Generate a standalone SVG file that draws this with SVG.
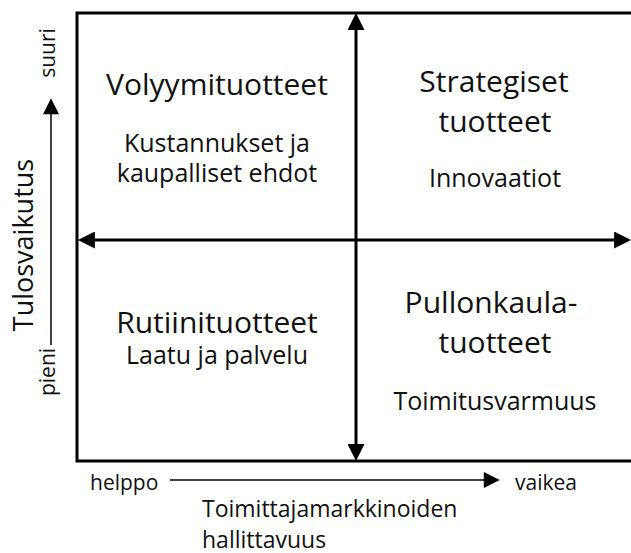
<svg xmlns="http://www.w3.org/2000/svg" width="631" height="553" viewBox="0 0 631 553">
<style>
text{font-family:"Open Sans","Noto Sans",sans-serif;fill:#111;}
.t{font-size:30px;text-anchor:middle;}
.s{font-size:25px;text-anchor:middle;}
.b{font-size:23px;}
.a{font-size:21px;}
.frame{fill:none;stroke:#000;stroke-width:3;}
.ax{stroke:#000;stroke-width:3;fill:none;}
.thin{stroke:#000;stroke-width:1.5;fill:none;}
</style>
<defs>
<marker id="big" viewBox="0 0 10 10" refX="7" refY="5" markerWidth="18" markerHeight="17" markerUnits="userSpaceOnUse" orient="auto-start-reverse">
<path d="M0,0 L10,5 L0,10 Z" fill="#000"/>
</marker>
<marker id="small" viewBox="0 0 10 10" refX="7" refY="5" markerWidth="17" markerHeight="16" markerUnits="userSpaceOnUse" orient="auto">
<path d="M0,0 L10,5 L0,10 Z" fill="#000"/>
</marker>
</defs>
<g id="frame">
<path class="frame" d="M631,13 L77,13 L77,461 L631,461"/>
</g>
<g id="connectors">
<line class="ax" x1="356" y1="18" x2="356" y2="456" marker-start="url(#big)" marker-end="url(#big)"/>
<line class="ax" x1="83" y1="240" x2="626" y2="240" marker-start="url(#big)" marker-end="url(#big)"/>
<line class="thin" x1="51" y1="345" x2="51" y2="103" marker-end="url(#small)"/>
<line class="thin" x1="170" y1="480" x2="495" y2="480" marker-end="url(#small)"/>
</g>
<g id="q-volyymi">
<text class="t" x="217" y="95">Volyymituotteet</text>
<text class="s" x="217" y="152">Kustannukset ja</text>
<text class="s" x="217" y="182">kaupalliset ehdot</text>
</g>
<g id="q-strategiset">
<text class="t" x="494" y="92">Strategiset</text>
<text class="t" x="495" y="132">tuotteet</text>
<text class="s" x="495" y="187">Innovaatiot</text>
</g>
<g id="q-rutiini">
<text class="t" x="217" y="333">Rutiinituotteet</text>
<text class="s" x="217" y="364">Laatu ja palvelu</text>
</g>
<g id="q-pullonkaula">
<text class="t" x="491" y="313">Pullonkaula-</text>
<text class="t" x="495" y="353">tuotteet</text>
<text class="s" x="495" y="410">Toimitusvarmuus</text>
</g>
<g id="y-axis">
<text class="t" style="font-size:27px" transform="translate(33,245) rotate(-90)">Tulosvaikutus</text>
<text class="a" text-anchor="middle" transform="translate(55,53) rotate(-90)">suuri</text>
<text class="a" text-anchor="middle" transform="translate(55,372) rotate(-90)">pieni</text>
</g>
<g id="x-axis">
<text class="a" x="90" y="490">helppo</text>
<text class="a" x="515" y="490">vaikea</text>
<text class="b" x="202" y="517">Toimittajamarkkinoiden</text>
<text class="b" x="202" y="548">hallittavuus</text>
</g>
</svg>
